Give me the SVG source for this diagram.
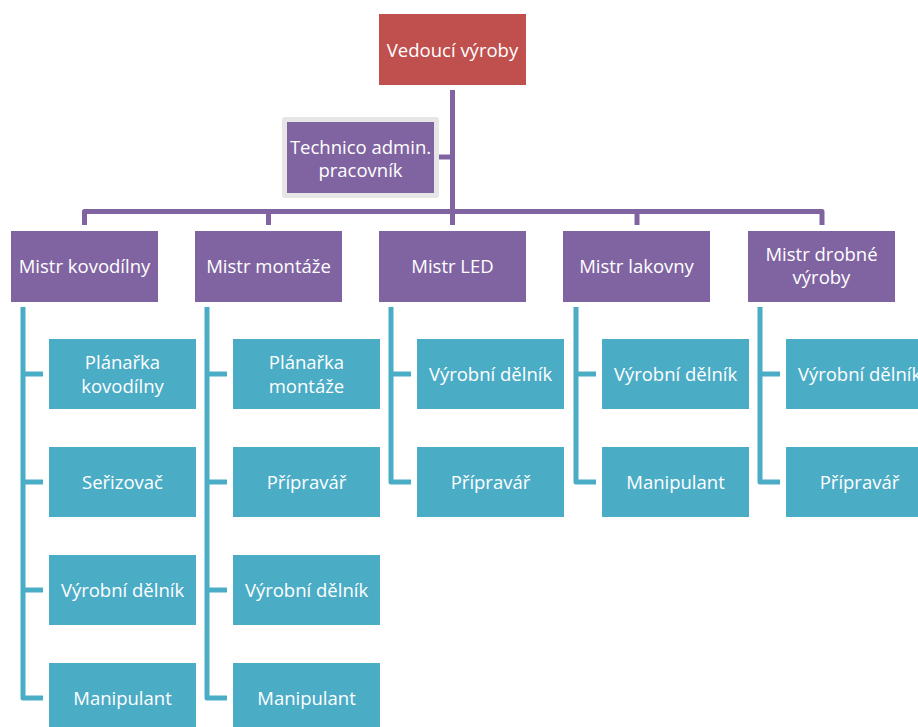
<svg xmlns="http://www.w3.org/2000/svg" width="918" height="727" viewBox="0 0 918 727">
<style>
text{font-family:"Open Sans","Liberation Sans",sans-serif;font-size:18.5px;fill:#fff;text-anchor:middle;dominant-baseline:central}
.red{fill:#C0504D}
.pur{fill:#8064A2}
.teal{fill:#4BACC6}
.cp{fill:none;stroke:#8064A2;stroke-width:5;stroke-linejoin:round}
.ct{fill:none;stroke:#4BACC6;stroke-width:5;stroke-linejoin:round}
</style>
<rect width="918" height="727" fill="#fff"/>
<g id="connectors">
<path class="cp" d="M452.5 90V225M438 157H452.5"/>
<path class="cp" d="M84.5 225V211.5H822V225M268.5 211.5V225M637 211.5V225"/>
<path class="ct" d="M23 307V698H43M23 374H43M23 482H43M23 590H43"/>
<path class="ct" d="M207 307V698H227M207 374H227M207 482H227M207 590H227"/>
<path class="ct" d="M391 307V482H411M391 374H411"/>
<path class="ct" d="M576 307V482H596M576 374H596"/>
<path class="ct" d="M760 307V482H780M760 374H780"/>
</g>
<g id="vedouci"><rect class="red" x="379" y="14" width="147" height="71"/><text x="452.5" y="49">Vedoucí výroby</text></g>
<g id="technico"><rect x="282" y="117" width="157" height="81" rx="3" fill="#E6E6E6"/><rect class="pur" x="287" y="122" width="147" height="71"/><text x="360.5" y="146">Technico admin.</text><text x="360.5" y="169">pracovník</text></g>
<g id="m1"><rect class="pur" x="11" y="231" width="147" height="71"/><text x="84.5" y="265">Mistr kovodílny</text></g>
<g id="m2"><rect class="pur" x="195" y="231" width="147" height="71"/><text x="268.5" y="265">Mistr montáže</text></g>
<g id="m3"><rect class="pur" x="379" y="231" width="147" height="71"/><text x="452.5" y="265">Mistr LED</text></g>
<g id="m4"><rect class="pur" x="563" y="231" width="147" height="71"/><text x="636.5" y="265">Mistr lakovny</text></g>
<g id="m5"><rect class="pur" x="748" y="231" width="147" height="71"/><text x="821.5" y="253">Mistr drobné</text><text x="821.5" y="276">výroby</text></g>
<g id="c1a"><rect class="teal" x="49" y="339" width="147" height="70"/><text x="122.5" y="361">Plánařka</text><text x="122.5" y="385">kovodílny</text></g>
<g id="c1b"><rect class="teal" x="49" y="447" width="147" height="70"/><text x="122.5" y="481">Seřizovač</text></g>
<g id="c1c"><rect class="teal" x="49" y="555" width="147" height="70"/><text x="122.5" y="589">Výrobní dělník</text></g>
<g id="c1d"><rect class="teal" x="49" y="663" width="147" height="70"/><text x="122.5" y="697">Manipulant</text></g>
<g id="c2a"><rect class="teal" x="233" y="339" width="147" height="70"/><text x="306.5" y="361">Plánařka</text><text x="306.5" y="385">montáže</text></g>
<g id="c2b"><rect class="teal" x="233" y="447" width="147" height="70"/><text x="306.5" y="481">Přípravář</text></g>
<g id="c2c"><rect class="teal" x="233" y="555" width="147" height="70"/><text x="306.5" y="589">Výrobní dělník</text></g>
<g id="c2d"><rect class="teal" x="233" y="663" width="147" height="70"/><text x="306.5" y="697">Manipulant</text></g>
<g id="c3a"><rect class="teal" x="417" y="339" width="147" height="70"/><text x="490.5" y="373">Výrobní dělník</text></g>
<g id="c3b"><rect class="teal" x="417" y="447" width="147" height="70"/><text x="490.5" y="481">Přípravář</text></g>
<g id="c4a"><rect class="teal" x="602" y="339" width="147" height="70"/><text x="675.5" y="373">Výrobní dělník</text></g>
<g id="c4b"><rect class="teal" x="602" y="447" width="147" height="70"/><text x="675.5" y="481">Manipulant</text></g>
<g id="c5a"><rect class="teal" x="786" y="339" width="147" height="70"/><text x="859.5" y="373">Výrobní dělník</text></g>
<g id="c5b"><rect class="teal" x="786" y="447" width="147" height="70"/><text x="859.5" y="481">Přípravář</text></g>
</svg>
